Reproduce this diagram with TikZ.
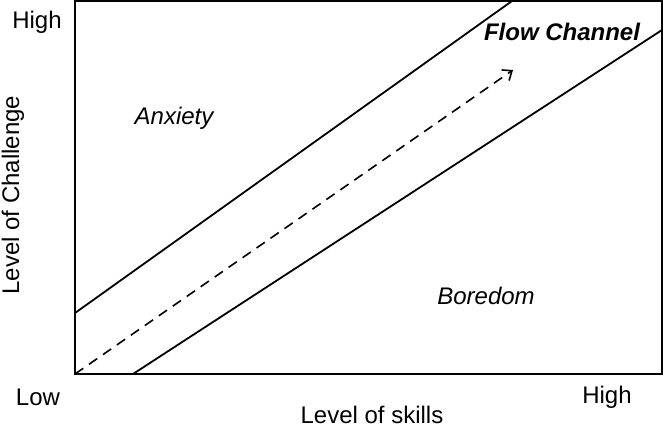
\documentclass[tikz,border=0pt]{standalone}
\usepackage{fontspec}
\setmainfont{Liberation Sans}
\usetikzlibrary{arrows.meta}
\begin{document}
\begin{tikzpicture}[x=1pt,y=1pt,
  lbl/.style={inner sep=0pt,font=\fontsize{24}{27}\selectfont},
  region/.style={lbl,font=\fontsize{24}{27}\selectfont\itshape},
  edge/.style={line width=1.8pt},
]
\useasboundingbox (0,0) rectangle (663,432);
\coordinate (bl) at (75,58);
\coordinate (tr) at (662,431);
\draw[edge] (bl) rectangle (tr);
\coordinate (ua) at (75,119);
\coordinate (ub) at (512,431);
\coordinate (la) at (133,58);
\coordinate (lb) at (662,402);
\coordinate (da) at (75,58);
\coordinate (db) at (513,362);
\draw[edge] (ua) -- (ub);
\draw[edge] (la) -- (lb);
\draw[line width=1.6pt,dash pattern=on 10pt off 7pt,-{Straight Barb[length=8pt,width=13pt,line width=1.6pt]}] (da) -- (db);
\node[lbl] (yhigh) at (37,410) {High};
\node[lbl] (xlow) at (38,35) {Low};
\node[lbl] (xhigh) at (607,35) {High};
\node[lbl] (xlab) at (372,17) {Level of skills};
\node[lbl,rotate=90] (ylab) at (13,237) {Level of Challenge};
\node[region] (anx) at (174,314) {Anxiety};
\node[region] (bor) at (486,136) {Boredom};
\node[lbl,font=\fontsize{24}{27}\selectfont\bfseries\itshape] (flow) at (562,400) {Flow Channel};
\end{tikzpicture}
\end{document}
